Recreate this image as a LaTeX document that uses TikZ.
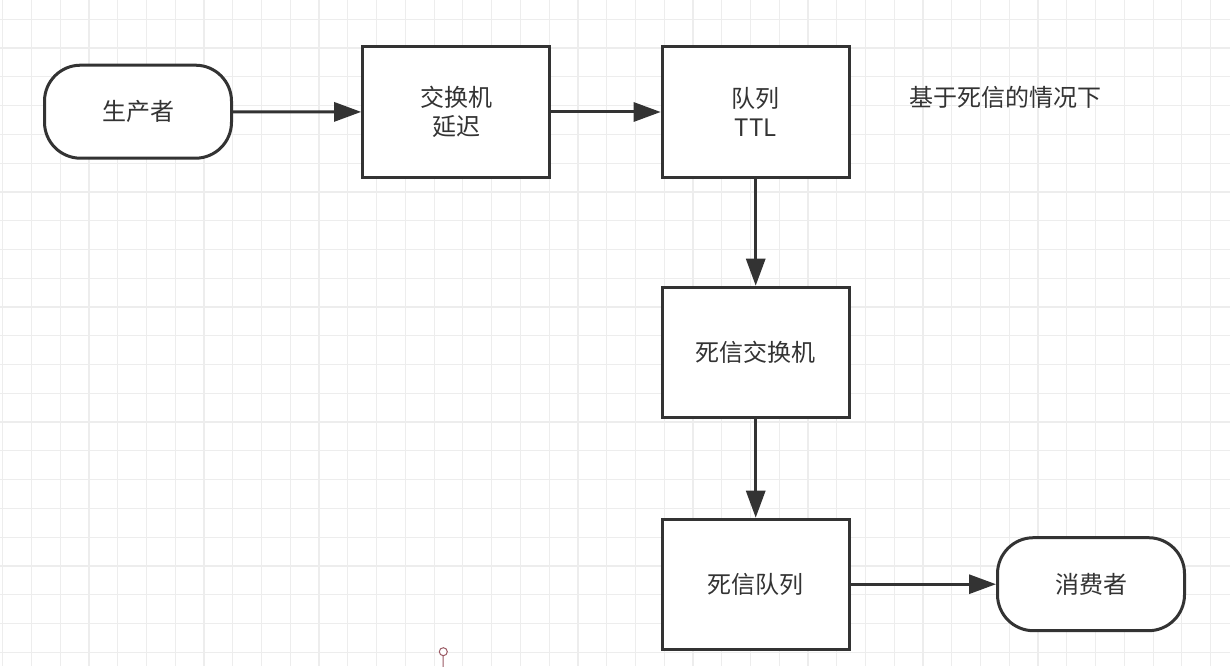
\documentclass[tikz,border=0pt]{standalone}
\usepackage{fontspec}
\newfontfamily\cjk{Noto Sans CJK SC}
\usetikzlibrary{arrows.meta}
\definecolor{ink}{HTML}{333333}
\definecolor{gridc}{HTML}{EDEDED}
\definecolor{pinc}{HTML}{9A5A64}
\tikzset{
  box/.style={draw=ink, line width=3pt, fill=white, minimum width=187pt, minimum height=130pt,
    inner sep=0pt, align=center, text=ink, font=\cjk\fontsize{24}{29}\selectfont},
  term/.style={box, minimum width=187pt, minimum height=93pt, rounded corners=36pt},
  flow/.style={draw=ink, line width=3pt, -{Triangle[length=27pt,width=19pt]}},
  lbl/.style={text=ink, inner sep=0pt, font=\cjk\fontsize{24}{29}\selectfont},
  gridline/.style={draw=gridc, line width=1.2pt},
  pinstyle/.style={draw=pinc, line width=1pt}
}
\begin{document}
\begin{tikzpicture}[x=1pt,y=-1pt]
\useasboundingbox (0,0) rectangle (1230,666);
\fill[white] (0,0) rectangle (1230,666);
\begin{scope}
\clip (0,0) rectangle (1230,666);
\foreach \i in {0,...,42} \draw[gridline] ({2.7+28.76*\i},0) -- ({2.7+28.76*\i},666);
\foreach \j in {0,...,22} \draw[gridline] (0,{19.3+28.77*\j}) -- (1230,{19.3+28.77*\j});
\end{scope}

\node[term] (prod) at (138,111.7) {生产者};
\node[box] (ex) at (456.2,112) {交换机\\延迟};
\node[box] (q) at (755.7,112) {队列\\TTL};
\node[box] (dlx) at (755.7,352.2) {死信交换机};
\node[box] (dlq) at (755.7,584.2) {死信队列};
\node[term] (cons) at (1091,584.2) {消费者};
\node[lbl] (note) at (1005.5,97) {基于死信的情况下};

\draw[flow] (prod) -- (ex);
\draw[flow] (ex) -- (q);
\draw[flow] (q) -- (dlx);
\draw[flow] (dlx) -- (dlq);
\draw[flow] (dlq.east |- cons) -- (cons);

\coordinate (pinend) at (443,667);
\node[circle, pinstyle, fill=white, minimum size=8pt, inner sep=0pt] (pin) at (443.3,651.7) {};
\draw[pinstyle] (pin) -- (pinend);
\end{tikzpicture}
\end{document}
